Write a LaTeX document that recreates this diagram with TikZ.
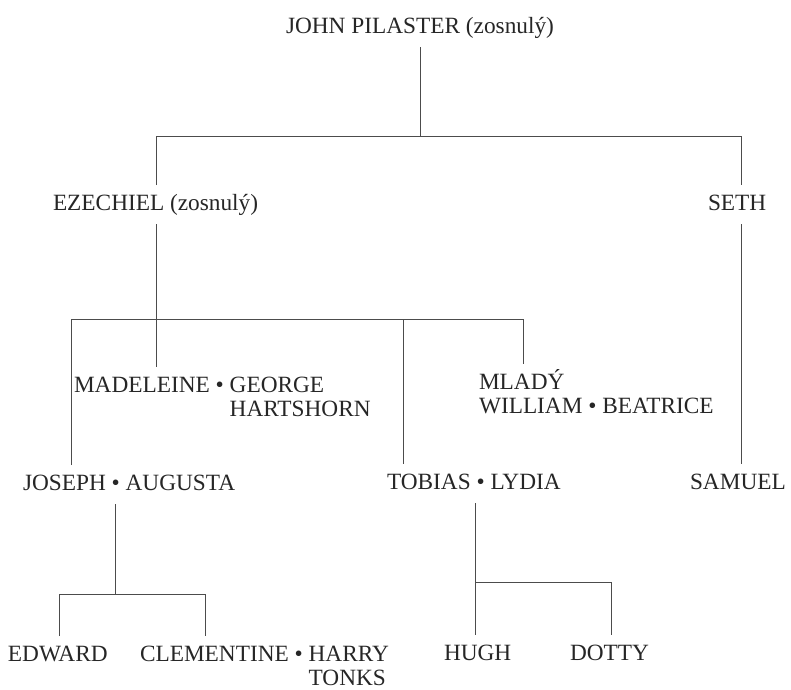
\documentclass[tikz,border=0pt]{standalone}
\usepackage{fontspec}
\setmainfont{Liberation Serif}
\usepackage{tikz}
\usetikzlibrary{positioning}

\tikzset{
  person/.style={anchor=base west, inner sep=0pt, outer xsep=0pt, outer ysep=9pt,
    text height=16pt, text depth=5pt, text=black!85,
    font=\fontsize{23.3}{24.5}\selectfont},
  link/.style={draw=black!70, line width=0.8pt}
}

\begin{document}
\begin{tikzpicture}[x=1pt,y=-1pt]
\useasboundingbox (0,0) rectangle (791,689);
% people
\node[person, anchor=base] (john) at (420,33) {JOHN PILASTER (zosnulý)};
\node[person] (ezechiel) at (53,210) {EZECHIEL (zosnulý)};
\node[person] (seth) at (708,210) {SETH};
\node[person] (madeleine) at (74,392) {MADELEINE • \begin{tabular}[t]{@{}l@{}}GEORGE\\HARTSHORN\end{tabular}};
\node[person] (william) at (479,389) {\begin{tabular}[t]{@{}l@{}}MLADÝ\\WILLIAM • BEATRICE\end{tabular}};
\node[person] (joseph) at (23,490) {JOSEPH • AUGUSTA};
\node[person] (tobias) at (387,489) {TOBIAS • LYDIA};
\node[person] (samuel) at (690,489) {SAMUEL};
\node[person] (edward) at (8,661) {EDWARD};
\node[person] (clementine) at (140,661) {CLEMENTINE • \begin{tabular}[t]{@{}l@{}}HARRY\\TONKS\end{tabular}};
\node[person] (hugh) at (444,660) {HUGH};
\node[person] (dotty) at (570,660) {DOTTY};
% junctions
\coordinate (jp) at (420,136);
\coordinate (jpl) at (156,136);
\coordinate (jpr) at (741,136);
\coordinate (ez) at (156,319);
\coordinate (ezl) at (71,319);
\coordinate (ezm) at (403,319);
\coordinate (ezr) at (523,319);
\coordinate (jo) at (115,594);
\coordinate (jol) at (59,594);
\coordinate (jor) at (205,594);
\coordinate (to) at (475,582);
\coordinate (tor) at (611,582);
% lines
\draw[link] (john.south) -- (jp);
\draw[link] (ezechiel.north -| jpl) -- (jpl) -- (jpr) -- (seth.north -| jpr);
\draw[link] (ezechiel.south -| ez) -- (madeleine.north -| ez);
\draw[link] (joseph.north -| ezl) -- (ezl) -- (ezr) -- (william.north -| ezr);
\draw[link] (ezm) -- (tobias.north -| ezm);
\draw[link] (seth.south -| jpr) -- (samuel.north -| jpr);
\draw[link] (joseph.south -| jo) -- (jo);
\draw[link] (edward.north -| jol) -- (jol) -- (jor) -- (clementine.north -| jor);
\draw[link] (tobias.south -| to) -- (hugh.north -| to);
\draw[link] (to) -- (tor) -- (dotty.north -| tor);
\end{tikzpicture}
\end{document}
